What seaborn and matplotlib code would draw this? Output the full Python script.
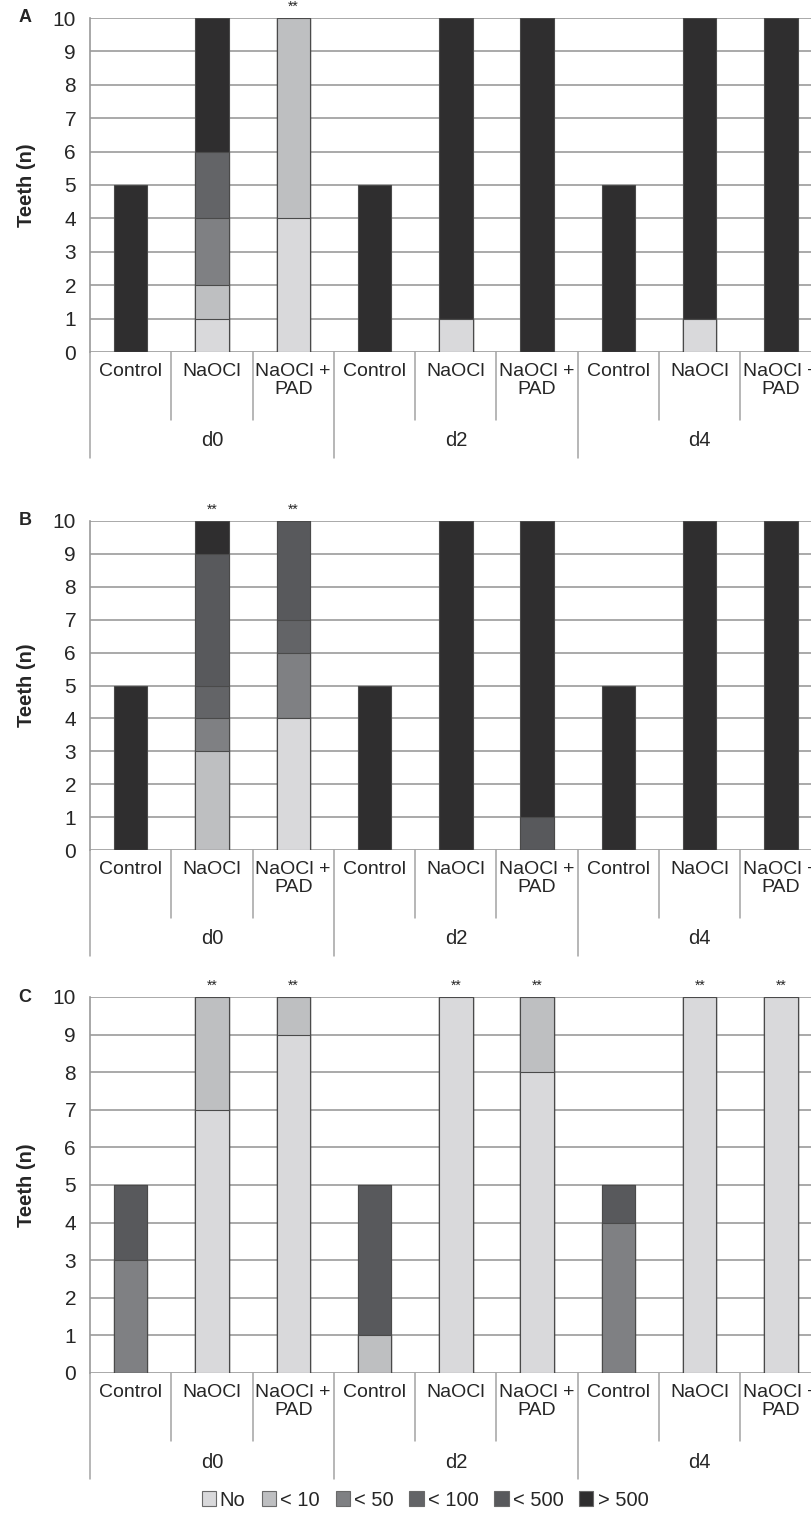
import numpy as np
import pandas as pd
import seaborn as sns
import matplotlib.pyplot as plt
import matplotlib.transforms as mtrans
from matplotlib.patches import Patch

# categorias do eixo x (dia -> tratamento)
DIAS = ["d0", "d2", "d4"]
TRATAMENTOS = ["Control", "NaOCl", "NaOCl +\nPAD"]
NIVEIS = ["No", "< 10", "< 50", "< 100", "< 500", "> 500"]
CORES = ["#d9d9db", "#bebfc1", "#7f8083", "#636467", "#58595c", "#2f2e2f"]

# ordem: Control/NaOCl/PAD em d0, d2, d4
A_NO = [0, 1, 4, 0, 1, 0, 0, 1, 0]
A_10 = [0, 1, 6, 0, 0, 0, 0, 0, 0]
A_50 = [0, 2, 0, 0, 0, 0, 0, 0, 0]
A_100 = [0, 2, 0, 0, 0, 0, 0, 0, 0]
A_500 = [0, 0, 0, 0, 0, 0, 0, 0, 0]
A_MAIS = [5, 4, 0, 5, 9, 10, 5, 9, 10]
A_SIG = [0, 0, 1, 0, 0, 0, 0, 0, 0]

B_NO = [0, 0, 4, 0, 0, 0, 0, 0, 0]
B_10 = [0, 3, 0, 0, 0, 0, 0, 0, 0]
B_50 = [0, 1, 2, 0, 0, 0, 0, 0, 0]
B_100 = [0, 1, 1, 0, 0, 0, 0, 0, 0]
B_500 = [0, 4, 3, 0, 0, 1, 0, 0, 0]
B_MAIS = [5, 1, 0, 5, 10, 9, 5, 10, 10]
B_SIG = [0, 1, 1, 0, 0, 0, 0, 0, 0]

C_NO = [0, 7, 9, 0, 10, 8, 0, 10, 10]
C_10 = [0, 3, 1, 1, 0, 2, 0, 0, 0]
C_50 = [3, 0, 0, 0, 0, 0, 4, 0, 0]
C_100 = [0, 0, 0, 0, 0, 0, 0, 0, 0]
C_500 = [2, 0, 0, 4, 0, 0, 1, 0, 0]
C_MAIS = [0, 0, 0, 0, 0, 0, 0, 0, 0]
C_SIG = [0, 1, 1, 0, 1, 1, 0, 1, 1]

PAINEIS = [
    ("A", [A_NO, A_10, A_50, A_100, A_500, A_MAIS], A_SIG, 18, 352),
    ("B", [B_NO, B_10, B_50, B_100, B_500, B_MAIS], B_SIG, 521, 850),
    ("C", [C_NO, C_10, C_50, C_100, C_500, C_MAIS], C_SIG, 997, 1373),
]

W, H = 811, 1519
CAT_PX = 81.3
X0 = 90

sns.set_style("white")
plt.rcParams["font.family"] = ["Liberation Sans", "DejaVu Sans"]
plt.rcParams["font.size"] = 13

fig = plt.figure(figsize=(W / 100, H / 100), dpi=100)

chaves = [f"{d}|{t}" for d in DIAS for t in TRATAMENTOS]

for letra, series, sig, topo, base in PAINEIS:
    alt = base - topo
    ax = fig.add_axes([X0 / W, 1 - base / H, 9 * CAT_PX / W, alt / H])

    df = pd.DataFrame({"chave": chaves})
    cum = np.cumsum(np.array(series), axis=0)
    # empilhamento: desenha do acumulado maior para o menor
    for k in range(len(NIVEIS) - 1, -1, -1):
        df["y"] = cum[k]
        sns.barplot(data=df, x="chave", y="y", order=chaves, color=CORES[k],
                    width=0.41, edgecolor="#4a4a4a", linewidth=0.8,
                    errorbar=None, saturation=1, ax=ax, zorder=2)

    ax.set_xlim(-0.5, 8.5)
    ax.set_ylim(0, 10)
    ax.set_yticks(range(0, 11))
    ax.yaxis.grid(True, color="#a3a3a3", linewidth=1.3)
    ax.xaxis.grid(False)
    ax.set_axisbelow(True)
    for s in ["top", "right", "bottom"]:
        ax.spines[s].set_visible(False)
    ax.spines["left"].set_color("#9a9a9a")
    ax.spines["left"].set_linewidth(1.2)
    ax.tick_params(axis="y", direction="out", length=7, width=1.2, color="#a3a3a3",
                   labelsize=15, pad=3)
    ax.tick_params(axis="x", length=0, labelbottom=False)
    ax.set_xlabel("")
    ax.set_ylabel("Teeth (n)", fontsize=14.5, fontweight="bold", labelpad=12)

    # letra do painel
    fig.text(25 / W, 1 - topo / H, letra, fontsize=13, fontweight="bold",
             ha="center", va="center")

    # asteriscos de significancia
    total = cum[-1]
    for i, s in enumerate(sig):
        if s:
            ax.annotate("**", (i, total[i]), xytext=(0, 3), textcoords="offset points",
                        ha="center", va="bottom", fontsize=10)

    # eixo x em dois niveis (estilo Excel)
    tr = mtrans.blended_transform_factory(ax.transData, ax.transAxes)
    for i in range(9):
        ax.text(i, -11 / alt, TRATAMENTOS[i % 3], transform=tr, ha="center", va="top",
                fontsize=14, linespacing=1.1)
    for j, d in enumerate(DIAS):
        ax.text(3 * j + 1, -89 / alt, d, transform=tr, ha="center", va="center", fontsize=14.5)
    for b in range(10):
        comp = 106 if b % 3 == 0 else 68
        ax.plot([b - 0.5, b - 0.5], [0, -comp / alt], transform=tr, color="#a3a3a3",
                linewidth=1.1, clip_on=False)

# legenda
alca = [Patch(facecolor=c, edgecolor="#6a6a6a", linewidth=0.8) for c in CORES]
fig.legend(alca, NIVEIS, loc="center", bbox_to_anchor=(425 / W, 1 - 1500 / H), ncol=6,
           frameon=False, fontsize=14.5, handlelength=0.7, handleheight=0.7,
           handletextpad=0.2, columnspacing=0.8)

fig.savefig("out.png", dpi=100)
